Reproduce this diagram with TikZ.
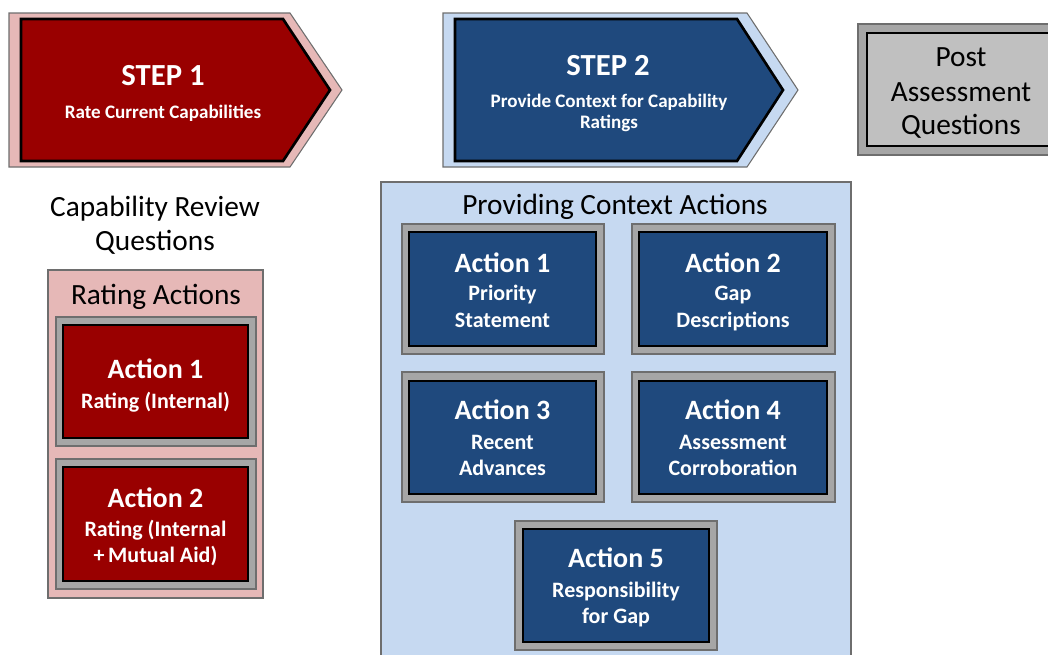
\documentclass[tikz,border=0pt]{standalone}
\usepackage{fontspec}
\setmainfont{Carlito}
\definecolor{darkred}{RGB}{153,0,0}
\definecolor{pinkbg}{RGB}{230,184,183}
\definecolor{navy}{RGB}{31,73,125}
\definecolor{lightblue}{RGB}{198,217,241}
\definecolor{framegray}{RGB}{166,166,166}
\definecolor{lightgray}{RGB}{192,192,192}
\definecolor{edgegray}{RGB}{110,110,110}
\begin{document}
\begin{tikzpicture}[x=0.75pt,y=-0.75pt,
  thinedge/.style={draw=edgegray,line width=0.8pt},
  thickedge/.style={draw=black,line width=2pt},
  frame/.style={thinedge,fill=framegray},
  redin/.style={thickedge,fill=darkred},
  bluein/.style={thickedge,fill=navy},
  grayin/.style={thickedge,fill=lightgray},
  ttl/.style={inner sep=0pt,text depth=0pt,text height=13.6pt,text=white,font=\bfseries\fontsize{21}{25}\selectfont},
  steptl/.style={inner sep=0pt,text depth=0pt,text height=14.8pt,text=white,font=\bfseries\fontsize{23}{27}\selectfont},
  sub/.style={inner sep=0pt,text depth=0pt,text height=10.6pt,text=white,font=\bfseries\fontsize{16.5}{19}\selectfont},
  stepsub/.style={inner sep=0pt,text depth=0pt,text height=9.2pt,text=white,font=\bfseries\fontsize{14.3}{17}\selectfont},
  plain/.style={inner sep=0pt,text depth=0pt,text height=14.2pt,text=black,font=\fontsize{22}{26}\selectfont}
]
\useasboundingbox (0,0) rectangle (1048,654);
\clip (0,0) rectangle (1048,654);

% Step 1 arrow
\draw[thinedge,fill=pinkbg] (9,13) -- (290,13) -- (342,90) -- (290,167) -- (9,167) -- cycle;
\draw[redin] (21,19) -- (283,19) -- (330,90) -- (283,161) -- (21,161) -- cycle;
\node[steptl] (s1t) at (163,76) {STEP 1};
\node[stepsub] (s1s) at (163,112) {Rate Current Capabilities};

% Step 2 arrow
\draw[thinedge,fill=lightblue] (443,13) -- (747,13) -- (798,90) -- (747,167) -- (443,167) -- cycle;
\draw[bluein] (455,19) -- (737,19) -- (783,90) -- (737,161) -- (455,161) -- cycle;
\node[steptl] (s2t) at (608,66) {STEP 2};
\node[stepsub] (s2s1) at (609,101) {Provide Context for Capability};
\node[stepsub] (s2s2) at (609,122) {Ratings};

% Post assessment
\draw[frame] (858,24) rectangle (1070,155);
\draw[grayin] (867,33) rectangle (1060,146);
\node[plain] (pq1) at (961,57) {Post};
\node[plain] (pq2) at (961,92) {Assessment};
\node[plain] (pq3) at (961,125) {Questions};

% Capability review questions
\node[plain] (crq1) at (155,207) {Capability Review};
\node[plain] (crq2) at (155,241) {Questions};

% Rating actions container
\draw[thinedge,fill=pinkbg] (48,270) rectangle (263,598);
\node[plain] (rat) at (156,295) {Rating Actions};
\draw[frame] (56,317) rectangle (256,446);
\draw[redin] (63,325) rectangle (248,438);
\node[ttl] (ra1t) at (155.5,369) {Action 1};
\node[sub] (ra1s) at (155.5,401) {Rating (Internal)};
\draw[frame] (56,459) rectangle (256,589);
\draw[redin] (63,467) rectangle (248,581);
\node[ttl] (ra2t) at (155.5,498) {Action 2};
\node[sub] (ra2s1) at (155.5,529) {Rating (Internal};
\node[sub] (ra2s2) at (155.5,555) {+\,Mutual Aid)};

% Providing context container
\draw[thinedge,fill=lightblue] (381,182) rectangle (851,720);
\node[plain] (pca) at (615,205) {Providing Context Actions};

\draw[frame] (402,224) rectangle (604,354);
\draw[bluein] (409,232) rectangle (596,346);
\node[ttl] (ba1t) at (502.5,263) {Action 1};
\node[sub] (ba1s1) at (502.5,293) {Priority};
\node[sub] (ba1s2) at (502.5,320) {Statement};

\draw[frame] (632,224) rectangle (835,354);
\draw[bluein] (639,232) rectangle (827,346);
\node[ttl] (ba2t) at (733,263) {Action 2};
\node[sub] (ba2s1) at (733,293) {Gap};
\node[sub] (ba2s2) at (733,320) {Descriptions};

\draw[frame] (402,372) rectangle (604,502);
\draw[bluein] (409,381) rectangle (596,494);
\node[ttl] (ba3t) at (502.5,410) {Action 3};
\node[sub] (ba3s1) at (502.5,442) {Recent};
\node[sub] (ba3s2) at (502.5,468) {Advances};

\draw[frame] (632,372) rectangle (835,502);
\draw[bluein] (639,381) rectangle (827,494);
\node[ttl] (ba4t) at (733,410) {Action 4};
\node[sub] (ba4s1) at (733,442) {Assessment};
\node[sub] (ba4s2) at (733,468) {Corroboration};

\draw[frame] (515,521) rectangle (717,650);
\draw[bluein] (523,529) rectangle (709,642);
\node[ttl] (ba5t) at (616,558) {Action 5};
\node[sub] (ba5s1) at (616,590) {Responsibility};
\node[sub] (ba5s2) at (616,616) {for Gap};
\end{tikzpicture}
\end{document}
